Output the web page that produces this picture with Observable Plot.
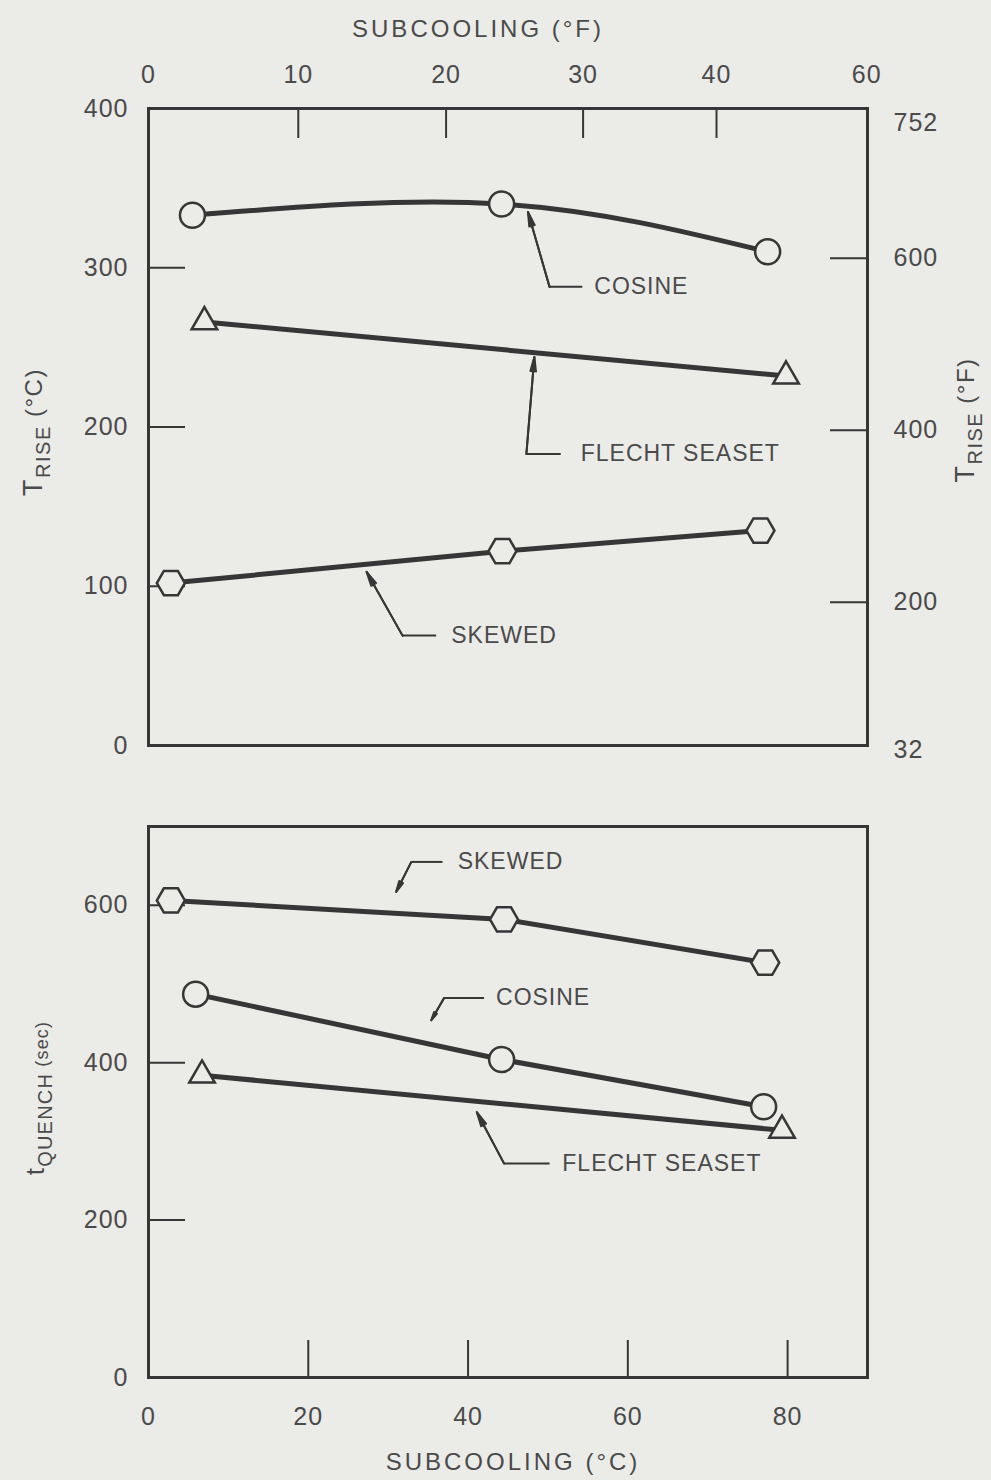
<!DOCTYPE html>
<html>
<head>
<meta charset="utf-8">
<script src="https://cdn.jsdelivr.net/npm/d3@7"></script>
<script src="https://cdn.jsdelivr.net/npm/@observablehq/plot@0.6"></script>
<style>
  html, body { margin: 0; padding: 0; background: #ebebe8; }
  #chart svg { display: block; }
</style>
</head>
<body>
<div id="chart"></div>
<script>
// ---------- DATA ----------
// Upper panel: T_RISE (°C) vs subcooling (°C)
const riseCosineX = [5.5, 44.2, 77.5];
const riseCosineY = [333, 340, 310];
const riseFlechtX = [7.0, 79.8];
const riseFlechtY = [266, 232];
const riseSkewedX = [2.8, 44.3, 76.6];
const riseSkewedY = [102, 122, 135];

// Lower panel: t_QUENCH (sec) vs subcooling (°C)
const quenchSkewedX = [2.8, 44.5, 77.2];
const quenchSkewedY = [606, 582, 527];
const quenchCosineX = [5.9, 44.2, 77.0];
const quenchCosineY = [487, 404, 344];
const quenchFlechtX = [6.7, 79.3];
const quenchFlechtY = [384, 314];

// Axis ticks
const riseTicksC = [0, 100, 200, 300, 400];
const riseInnerTicksC = [100, 200, 300];
const riseTicksFLabels = ["752", "600", "400", "200", "32"];
const riseTicksFAt = [391, 306, 198, 90, -3];       // where each °F label sits on the °C scale
const riseInnerTicksFAt = [306, 198, 90];
const subcoolFLabels = ["0", "10", "20", "30", "40", "60"];
const subcoolFAt = [0, 18.75, 37.25, 54.4, 71.1, 89.9]; // where each °F label sits on the °C scale
const subcoolInnerFAt = [18.75, 37.25, 54.4, 71.1];
const quenchTicks = [0, 200, 400, 600];
const quenchInnerTicks = [200, 400, 600];
const subcoolTicksC = [0, 20, 40, 60, 80];
const subcoolInnerTicksC = [20, 40, 60, 80];

// Annotations (data units)
const riseNotes = [
  {label: "COSINE",        tipX: 47.5, tipY: 335, bendX: 50.2, bendY: 288, endX: 54.3, textX: 55.8},
  {label: "FLECHT SEASET", tipX: 48.3, tipY: 244, bendX: 47.3, bendY: 183, endX: 51.6, textX: 54.1},
  {label: "SKEWED",        tipX: 27.3, tipY: 109, bendX: 31.8, bendY: 69,  endX: 36.0, textX: 37.9}
];
const quenchNotes = [
  {label: "SKEWED",        tipX: 31.0, tipY: 617, bendX: 32.9, bendY: 655, endX: 36.8, textX: 38.7},
  {label: "COSINE",        tipX: 35.4, tipY: 454, bendX: 37.0, bendY: 482, endX: 42.0, textX: 43.5},
  {label: "FLECHT SEASET", tipX: 41.1, tipY: 337, bendX: 44.5, bendY: 272, endX: 50.2, textX: 51.8}
];

// ---------- STYLE ----------
const INK = "#363636", TEXT = "#4a4a4a", BG = "#ebebe8";
const FONT = "'Liberation Sans', Arial, Helvetica, sans-serif";
const W = 991, ML = 148, MR = 124, PW = W - ML - MR;

const hexagon = {
  draw(ctx, size) {
    const R = Math.sqrt(size / Math.PI), h = R * Math.sqrt(3) / 2;
    ctx.moveTo(R, 0); ctx.lineTo(R / 2, h); ctx.lineTo(-R / 2, h);
    ctx.lineTo(-R, 0); ctx.lineTo(-R / 2, -h); ctx.lineTo(R / 2, -h); ctx.closePath();
  }
};
const rows = (xs, ys) => xs.map((x, i) => ({x, y: ys[i]}));
const lineOpts = {x: "x", y: "y", stroke: INK, strokeWidth: 5};
const dotOpts = (symbol, r) => ({x: "x", y: "y", symbol, r, fill: BG, stroke: INK, strokeWidth: 2.5});

function noteMarks(notes) {
  return [
    Plot.link(notes, {x1: "bendX", x2: "endX", y1: "bendY", y2: "bendY", stroke: INK, strokeWidth: 2}),
    Plot.arrow(notes, {x1: "bendX", y1: "bendY", x2: "tipX", y2: "tipY", stroke: INK, strokeWidth: 2, headLength: 11, headAngle: 22}),
    Plot.arrow(notes, {x1: "bendX", y1: "bendY", x2: "tipX", y2: "tipY", stroke: INK, strokeWidth: 2, headLength: 11, headAngle: 10}),
    Plot.text(notes, {x: "textX", y: "bendY", text: "label", textAnchor: "start", fontSize: 23, fill: TEXT})
  ];
}

// ---------- UPPER PANEL ----------
const upperH = 790, upperMT = 108, upperMB = 45;
const upperPH = upperH - upperMT - upperMB;
const fMap = new Map(subcoolFAt.map((d, i) => [d, subcoolFLabels[i]]));
const rMap = new Map(riseTicksFAt.map((d, i) => [d, riseTicksFLabels[i]]));

const upper = Plot.plot({
  width: W, height: upperH,
  marginTop: upperMT, marginBottom: upperMB, marginLeft: ML, marginRight: MR,
  x: {domain: [0, 90]},
  y: {domain: [0, 400]},
  style: {background: "transparent", fontFamily: FONT, fontSize: "25px", color: TEXT, letterSpacing: "1px"},
  marks: [
    Plot.axisY(riseTicksC, {anchor: "left", tickSize: 0, tickPadding: 20, label: null, fill: TEXT}),
    Plot.axisY(riseTicksFAt, {anchor: "right", tickSize: 0, tickPadding: 26, label: null, tickFormat: d => rMap.get(d), fill: TEXT}),
    Plot.axisX(subcoolFAt, {anchor: "top", tickSize: 0, tickPadding: 26, label: null, tickFormat: d => fMap.get(d), fill: TEXT}),
    Plot.tickY(riseInnerTicksC, {y: d => d, stroke: INK, strokeWidth: 2, insetRight: PW - 37}),
    Plot.tickY(riseInnerTicksFAt, {y: d => d, stroke: INK, strokeWidth: 2, insetLeft: PW - 37}),
    Plot.tickX(subcoolInnerFAt, {x: d => d, stroke: INK, strokeWidth: 2, insetBottom: upperPH - 30}),
    Plot.frame({stroke: INK, strokeWidth: 3}),
    Plot.line(rows(riseCosineX, riseCosineY), {...lineOpts, curve: "natural"}),
    Plot.line(rows(riseFlechtX, riseFlechtY), lineOpts),
    Plot.line(rows(riseSkewedX, riseSkewedY), lineOpts),
    ...noteMarks(riseNotes),
    Plot.dot(rows(riseCosineX, riseCosineY), dotOpts("circle", 12.5)),
    Plot.dot(rows(riseFlechtX, riseFlechtY), dotOpts("triangle", 9.5)),
    Plot.dot(rows(riseSkewedX, riseSkewedY), dotOpts(hexagon, 14))
  ]
});

// ---------- LOWER PANEL ----------
const lowerH = 690, lowerMT = 36, lowerMB = 103;
const lowerPH = lowerH - lowerMT - lowerMB;

const lower = Plot.plot({
  width: W, height: lowerH,
  marginTop: lowerMT, marginBottom: lowerMB, marginLeft: ML, marginRight: MR,
  x: {domain: [0, 90]},
  y: {domain: [0, 700]},
  style: {background: "transparent", fontFamily: FONT, fontSize: "25px", color: TEXT, letterSpacing: "1px"},
  marks: [
    Plot.axisY(quenchTicks, {anchor: "left", tickSize: 0, tickPadding: 20, label: null, fill: TEXT}),
    Plot.axisX(subcoolTicksC, {anchor: "bottom", tickSize: 0, tickPadding: 30, label: null, fill: TEXT}),
    Plot.tickY(quenchInnerTicks, {y: d => d, stroke: INK, strokeWidth: 2, insetRight: PW - 37}),
    Plot.tickX(subcoolInnerTicksC, {x: d => d, stroke: INK, strokeWidth: 2, insetTop: lowerPH - 37}),
    Plot.frame({stroke: INK, strokeWidth: 3}),
    Plot.line(rows(quenchSkewedX, quenchSkewedY), lineOpts),
    Plot.line(rows(quenchCosineX, quenchCosineY), lineOpts),
    Plot.line(rows(quenchFlechtX, quenchFlechtY), lineOpts),
    ...noteMarks(quenchNotes),
    Plot.dot(rows(quenchSkewedX, quenchSkewedY), dotOpts(hexagon, 14)),
    Plot.dot(rows(quenchCosineX, quenchCosineY), dotOpts("circle", 12.5)),
    Plot.dot(rows(quenchFlechtX, quenchFlechtY), dotOpts("triangle", 9.5))
  ]
});

// ---------- TITLES (real text with sub/superscripts) ----------
function title(svg, x, y, rotate, parts, spacing) {
  const t = d3.select(svg).append("text")
    .attr("transform", `translate(${x},${y})` + (rotate ? ` rotate(${rotate})` : ""))
    .attr("text-anchor", "middle")
    .attr("fill", TEXT)
    .attr("font-family", FONT)
    .attr("letter-spacing", spacing + "px");
  parts.forEach(p => {
    const s = t.append("tspan").attr("font-size", p.size).text(p.text);
    if (p.dy) s.attr("dy", p.dy);
  });
}

title(upper, 478, 37, 0, [{text: "SUBCOOLING (°F)", size: 24}], 3);
title(upper, 42, 432, -90, [
  {text: "T", size: 27},
  {text: "RISE", size: 20, dy: 8},
  {text: " (°C)", size: 24, dy: -8}
], 1.5);
title(upper, 974, 420, -90, [
  {text: "T", size: 27},
  {text: "RISE", size: 20, dy: 8},
  {text: " (°F)", size: 24, dy: -8}
], 1.5);

title(lower, 513, 680, 0, [{text: "SUBCOOLING (°C)", size: 24}], 3);
title(lower, 44, 308, -90, [
  {text: "t", size: 26},
  {text: "QUENCH", size: 20, dy: 8},
  {text: " (sec)", size: 18, dy: -4}
], 1.2);

const host = document.getElementById("chart");
host.append(upper, lower);
</script>
</body>
</html>
